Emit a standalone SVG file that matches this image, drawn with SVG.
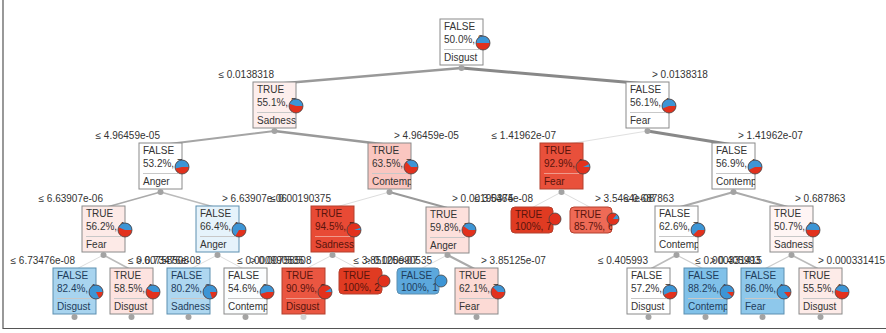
<svg xmlns="http://www.w3.org/2000/svg" width="886" height="333" viewBox="0 0 886 333">
<style>
.t{font-family:"Liberation Sans",Arial,sans-serif;font-size:10px;fill:#333}
.tr{fill:#5a140c}
.tb{fill:#1e3d5c}
.lbl{font-family:"Liberation Sans",Arial,sans-serif;font-size:10px;fill:#333}
.bx{stroke:#8a8a8a;stroke-width:1}
.bxr{stroke:#b3402e;stroke-width:1}
.bxb{stroke:#5d8fb0;stroke-width:1}
.sep{stroke:#c8c8c8;stroke-width:1}
.sepr{stroke:#f09a8c;stroke-width:1}
.dot{fill:#a3a3a3}
.pr{fill:#e2311d}
.pb{fill:#3d95d5}
.po{fill:none;stroke:#444;stroke-width:0.8}
.c{fill:none;stroke-linecap:round}
</style>
<rect width="886" height="333" fill="#fff"/>
<path d="M3,0 V328.5 H886" fill="none" stroke="#555" stroke-width="1.2"/>
<g id="connectors">
<line class="c" x1="461.5" y1="68" x2="274.5" y2="84" stroke="#999" stroke-width="2.5"/>
<line class="c" x1="461.5" y1="68" x2="647.5" y2="84" stroke="#888" stroke-width="3"/>
<line class="c" x1="274.5" y1="131" x2="160.5" y2="145" stroke="#a5a5a5" stroke-width="2"/>
<line class="c" x1="274.5" y1="131" x2="389.5" y2="145" stroke="#999" stroke-width="2.5"/>
<line class="c" x1="647.5" y1="131" x2="561.5" y2="145" stroke="#e0e0e0" stroke-width="1"/>
<line class="c" x1="647.5" y1="131" x2="733.5" y2="145" stroke="#888" stroke-width="3"/>
<line class="c" x1="160.5" y1="192" x2="103.5" y2="208" stroke="#aaa" stroke-width="1.5"/>
<line class="c" x1="160.5" y1="192" x2="217.5" y2="208" stroke="#bbb" stroke-width="1.5"/>
<line class="c" x1="389.5" y1="192" x2="332.5" y2="208" stroke="#ddd" stroke-width="1"/>
<line class="c" x1="389.5" y1="192" x2="447.5" y2="208" stroke="#999" stroke-width="2"/>
<line class="c" x1="561.5" y1="192" x2="531.5" y2="208" stroke="#ddd" stroke-width="1"/>
<line class="c" x1="561.5" y1="192" x2="591.5" y2="208" stroke="#ddd" stroke-width="1"/>
<line class="c" x1="733.5" y1="192" x2="676.5" y2="208" stroke="#aaa" stroke-width="2"/>
<line class="c" x1="733.5" y1="192" x2="791.5" y2="208" stroke="#aaa" stroke-width="2"/>
<line class="c" x1="103.5" y1="255" x2="74.5" y2="270" stroke="#ddd" stroke-width="1"/>
<line class="c" x1="103.5" y1="255" x2="131.5" y2="270" stroke="#bbb" stroke-width="1.5"/>
<line class="c" x1="217.5" y1="255" x2="188.5" y2="270" stroke="#ddd" stroke-width="1"/>
<line class="c" x1="217.5" y1="255" x2="245.5" y2="270" stroke="#ddd" stroke-width="1"/>
<line class="c" x1="332.5" y1="255" x2="303.5" y2="270" stroke="#ddd" stroke-width="1"/>
<line class="c" x1="332.5" y1="255" x2="360.5" y2="270" stroke="#ddd" stroke-width="1"/>
<line class="c" x1="447.5" y1="255" x2="418.5" y2="270" stroke="#ddd" stroke-width="1"/>
<line class="c" x1="447.5" y1="255" x2="476.5" y2="270" stroke="#aaa" stroke-width="2"/>
<line class="c" x1="676.5" y1="255" x2="648.5" y2="270" stroke="#bbb" stroke-width="1.5"/>
<line class="c" x1="676.5" y1="255" x2="705.5" y2="270" stroke="#ccc" stroke-width="1.2"/>
<line class="c" x1="791.5" y1="255" x2="762.5" y2="270" stroke="#ccc" stroke-width="1.2"/>
<line class="c" x1="791.5" y1="255" x2="820.5" y2="270" stroke="#bbb" stroke-width="1.5"/>
</g>
<g id="labels">
<text class="lbl" x="274" y="78" text-anchor="end">≤ 0.0138318</text>
<text class="lbl" x="652" y="78">&gt; 0.0138318</text>
<text class="lbl" x="160" y="139" text-anchor="end">≤ 4.96459e-05</text>
<text class="lbl" x="394" y="139">&gt; 4.96459e-05</text>
<text class="lbl" x="556" y="139" text-anchor="end">≤ 1.41962e-07</text>
<text class="lbl" x="738" y="139">&gt; 1.41962e-07</text>
<text class="lbl" x="103" y="202" text-anchor="end">≤ 6.63907e-06</text>
<text class="lbl" x="222" y="202">&gt; 6.63907e-06</text>
<text class="lbl" x="331" y="202" text-anchor="end">≤ 0.00190375</text>
<text class="lbl" x="452" y="202">&gt; 0.00190375</text>
<text class="lbl" x="533" y="202" text-anchor="end">≤ 3.5464e-08</text>
<text class="lbl" x="595" y="202">&gt; 3.5464e-08</text>
<text class="lbl" x="674" y="202" text-anchor="end">≤ 0.687863</text>
<text class="lbl" x="795" y="202">&gt; 0.687863</text>
<text class="lbl" x="75" y="264" text-anchor="end">≤ 6.73476e-08</text>
<text class="lbl" x="136" y="264">&gt; 6.73476e-08</text>
<text class="lbl" x="189" y="264" text-anchor="end">≤ 0.00758508</text>
<text class="lbl" x="250" y="264">&gt; 0.00758508</text>
<text class="lbl" x="304" y="264" text-anchor="end">≤ 0.000990535</text>
<text class="lbl" x="365" y="264">&gt; 0.000990535</text>
<text class="lbl" x="418" y="264" text-anchor="end">≤ 3.85125e-07</text>
<text class="lbl" x="481" y="264">&gt; 3.85125e-07</text>
<text class="lbl" x="648" y="264" text-anchor="end">≤ 0.405993</text>
<text class="lbl" x="710" y="264">&gt; 0.405993</text>
<text class="lbl" x="762" y="264" text-anchor="end">≤ 0.000331415</text>
<text class="lbl" x="818" y="264">&gt; 0.000331415</text>
</g>

<g id="n0">
<rect class="bx" x="440" y="19" width="43" height="46" fill="#fff"/>
<svg x="440" y="19" width="43" height="46"><text class="t" x="4" y="11">FALSE</text><text class="t" x="4" y="24">50.0%, 8</text><line class="sep" x1="4" y1="30.5" x2="39" y2="30.5"/><text class="t" x="4" y="42">Disgust</text></svg>
<g transform="translate(483,43)"><circle class="pr" r="7"/><path class="pb" d="M0,0 L7,0 A7,7 0 0 0 -7,0 Z"/><circle class="po" r="7"/></g>
<circle class="dot" cx="461.5" cy="68" r="3"/>
</g>

<g id="n1">
<rect class="bx" x="253" y="82" width="43" height="46" fill="#fdeeec"/>
<svg x="253" y="82" width="43" height="46"><text class="t" x="4" y="11">TRUE</text><text class="t" x="4" y="24">55.1%, 5</text><line class="sep" x1="4" y1="30.5" x2="39" y2="30.5"/><text class="t" x="4" y="42">Sadness</text></svg>
<g transform="translate(296,106)"><circle class="pr" r="7"/><path class="pb" d="M0,0 L7,0 A7,7 0 0 0 -6.64,-2.21 Z"/><circle class="po" r="7"/></g>
<circle class="dot" cx="274.5" cy="131" r="3"/>
</g>

<g id="n2">
<rect class="bx" x="626" y="82" width="43" height="46" fill="#fff"/>
<svg x="626" y="82" width="43" height="46"><text class="t" x="4" y="11">FALSE</text><text class="t" x="4" y="24">56.1%, 4</text><line class="sep" x1="4" y1="30.5" x2="39" y2="30.5"/><text class="t" x="4" y="42">Fear</text></svg>
<g transform="translate(669,106)"><circle class="pr" r="7"/><path class="pb" d="M0,0 L7,0 A7,7 0 1 0 -6.49,2.62 Z"/><circle class="po" r="7"/></g>
<circle class="dot" cx="647.5" cy="131" r="3"/>
</g>

<g id="n3">
<rect class="bx" x="139" y="143" width="43" height="46" fill="#fff"/>
<svg x="139" y="143" width="43" height="46"><text class="t" x="4" y="11">FALSE</text><text class="t" x="4" y="24">53.2%, 7</text><line class="sep" x1="4" y1="30.5" x2="39" y2="30.5"/><text class="t" x="4" y="42">Anger</text></svg>
<g transform="translate(182,167)"><circle class="pr" r="7"/><path class="pb" d="M0,0 L7,0 A7,7 0 1 0 -6.86,1.4 Z"/><circle class="po" r="7"/></g>
<circle class="dot" cx="160.5" cy="192" r="3"/>
</g>

<g id="n4">
<rect class="bx" x="368" y="143" width="43" height="46" fill="#fac6c0"/>
<svg x="368" y="143" width="43" height="46"><text class="t" x="4" y="11">TRUE</text><text class="t" x="4" y="24">63.5%, 7</text><line class="sep" x1="4" y1="30.5" x2="39" y2="30.5"/><text class="t" x="4" y="42">Contempt</text></svg>
<g transform="translate(411,167)"><circle class="pr" r="7"/><path class="pb" d="M0,0 L7,0 A7,7 0 0 0 -4.63,-5.25 Z"/><circle class="po" r="7"/></g>
<circle class="dot" cx="389.5" cy="192" r="3"/>
</g>

<g id="n5">
<rect class="bxr" x="540" y="143" width="43" height="46" fill="#e9503b"/>
<svg x="540" y="143" width="43" height="46"><text class="t tr" x="4" y="11">TRUE</text><text class="t tr" x="4" y="24">92.9%, 1</text><line class="sepr" x1="4" y1="30.5" x2="39" y2="30.5"/><text class="t tr" x="4" y="42">Fear</text></svg>
<g transform="translate(583,167)"><circle class="pr" r="7"/><path class="pb" d="M0,0 L7,0 A7,7 0 0 0 6.31,-3.02 Z"/><circle class="po" r="7"/></g>
<circle class="dot" cx="561.5" cy="192" r="3"/>
</g>

<g id="n6">
<rect class="bx" x="712" y="143" width="43" height="46" fill="#fff"/>
<svg x="712" y="143" width="43" height="46"><text class="t" x="4" y="11">FALSE</text><text class="t" x="4" y="24">56.9%, 4</text><line class="sep" x1="4" y1="30.5" x2="39" y2="30.5"/><text class="t" x="4" y="42">Contempt</text></svg>
<g transform="translate(755,167)"><circle class="pr" r="7"/><path class="pb" d="M0,0 L7,0 A7,7 0 1 0 -6.35,2.94 Z"/><circle class="po" r="7"/></g>
<circle class="dot" cx="733.5" cy="192" r="3"/>
</g>

<g id="n7">
<rect class="bx" x="82" y="206" width="43" height="46" fill="#fdeae7"/>
<svg x="82" y="206" width="43" height="46"><text class="t" x="4" y="11">TRUE</text><text class="t" x="4" y="24">56.2%, 1</text><line class="sep" x1="4" y1="30.5" x2="39" y2="30.5"/><text class="t" x="4" y="42">Fear</text></svg>
<g transform="translate(125,230)"><circle class="pr" r="7"/><path class="pb" d="M0,0 L7,0 A7,7 0 0 0 -6.48,-2.66 Z"/><circle class="po" r="7"/></g>
<circle class="dot" cx="103.5" cy="255" r="3"/>
</g>

<g id="n8">
<rect class="bxb" x="196" y="206" width="43" height="46" fill="#e6f3fb"/>
<svg x="196" y="206" width="43" height="46"><text class="t" x="4" y="11">FALSE</text><text class="t" x="4" y="24">66.4%, 1</text><line class="sep" x1="4" y1="30.5" x2="39" y2="30.5"/><text class="t" x="4" y="42">Anger</text></svg>
<g transform="translate(239,230)"><circle class="pr" r="7"/><path class="pb" d="M0,0 L7,0 A7,7 0 1 0 -3.61,6 Z"/><circle class="po" r="7"/></g>
<circle class="dot" cx="217.5" cy="255" r="3"/>
</g>

<g id="n9">
<rect class="bxr" x="311" y="206" width="43" height="46" fill="#e84a35"/>
<svg x="311" y="206" width="43" height="46"><text class="t tr" x="4" y="11">TRUE</text><text class="t tr" x="4" y="24">94.5%, 5</text><line class="sepr" x1="4" y1="30.5" x2="39" y2="30.5"/><text class="t tr" x="4" y="42">Sadness</text></svg>
<g transform="translate(354,230)"><circle class="pr" r="7"/><path class="pb" d="M0,0 L7,0 A7,7 0 0 0 6.59,-2.37 Z"/><circle class="po" r="7"/></g>
<circle class="dot" cx="332.5" cy="255" r="3"/>
</g>

<g id="n10">
<rect class="bx" x="426" y="207" width="43" height="46" fill="#fde0dc"/>
<svg x="426" y="207" width="43" height="46"><text class="t" x="4" y="11">TRUE</text><text class="t" x="4" y="24">59.8%, 7</text><line class="sep" x1="4" y1="30.5" x2="39" y2="30.5"/><text class="t" x="4" y="42">Anger</text></svg>
<g transform="translate(469,230)"><circle class="pr" r="7"/><path class="pb" d="M0,0 L7,0 A7,7 0 0 0 -5.71,-4.05 Z"/><circle class="po" r="7"/></g>
<circle class="dot" cx="447.5" cy="255" r="3"/>
</g>

<g id="n11">
<rect class="bxr" x="511" y="207" width="42" height="26" rx="4" fill="#e03b22"/>
<svg x="511" y="207" width="42" height="26"><text class="t tr" x="4" y="11">TRUE</text><text class="t tr" x="4" y="23">100%, 7</text></svg>
<circle class="pr" cx="555" cy="219" r="6"/><circle class="po" cx="555" cy="219" r="6"/>
</g>

<g id="n12">
<rect class="bxr" x="570" y="207" width="42" height="26" rx="4" fill="#ee6a56"/>
<svg x="570" y="207" width="42" height="26"><text class="t tr" x="4" y="11">TRUE</text><text class="t tr" x="4" y="23">85.7%, 6</text></svg>
<g transform="translate(613,219)"><circle class="pr" r="6"/><path class="pb" d="M0,0 L6,0 A6,6 0 0 0 3.74,-4.7 Z"/><circle class="po" r="6"/></g>
</g>

<g id="n13">
<rect class="bx" x="655" y="206" width="43" height="46" fill="#fff"/>
<svg x="655" y="206" width="43" height="46"><text class="t" x="4" y="11">FALSE</text><text class="t" x="4" y="24">62.6%, 7</text><line class="sep" x1="4" y1="30.5" x2="39" y2="30.5"/><text class="t" x="4" y="42">Contempt</text></svg>
<g transform="translate(698,230)"><circle class="pr" r="7"/><path class="pb" d="M0,0 L7,0 A7,7 0 1 0 -4.92,4.98 Z"/><circle class="po" r="7"/></g>
<circle class="dot" cx="676.5" cy="255" r="3"/>
</g>

<g id="n14">
<rect class="bx" x="770" y="206" width="43" height="46" fill="#fff5f4"/>
<svg x="770" y="206" width="43" height="46"><text class="t" x="4" y="11">TRUE</text><text class="t" x="4" y="24">50.7%, 1</text><line class="sep" x1="4" y1="30.5" x2="39" y2="30.5"/><text class="t" x="4" y="42">Sadness</text></svg>
<g transform="translate(813,230)"><circle class="pr" r="7"/><path class="pb" d="M0,0 L7,0 A7,7 0 0 0 -6.99,-0.31 Z"/><circle class="po" r="7"/></g>
<circle class="dot" cx="791.5" cy="255" r="3"/>
</g>

<g id="n15">
<rect class="bxb" x="53" y="268" width="43" height="46" fill="#a8d4ef"/>
<svg x="53" y="268" width="43" height="46"><text class="t tb" x="4" y="11">FALSE</text><text class="t tb" x="4" y="24">82.4%, 1</text><line class="sep" x1="4" y1="30.5" x2="39" y2="30.5"/><text class="t tb" x="4" y="42">Disgust</text></svg>
<g transform="translate(96,292)"><circle class="pr" r="7"/><path class="pb" d="M0,0 L7,0 A7,7 0 1 0 3.13,6.26 Z"/><circle class="po" r="7"/></g>
<circle class="dot" cx="74.5" cy="317" r="3"/>
</g>

<g id="n16">
<rect class="bx" x="110" y="268" width="43" height="46" fill="#fde3e0"/>
<svg x="110" y="268" width="43" height="46"><text class="t" x="4" y="11">TRUE</text><text class="t" x="4" y="24">58.5%, 1</text><line class="sep" x1="4" y1="30.5" x2="39" y2="30.5"/><text class="t" x="4" y="42">Disgust</text></svg>
<g transform="translate(153,292)"><circle class="pr" r="7"/><path class="pb" d="M0,0 L7,0 A7,7 0 0 0 -6.03,-3.56 Z"/><circle class="po" r="7"/></g>
<circle class="dot" cx="131.5" cy="317" r="3"/>
</g>

<g id="n17">
<rect class="bxb" x="167" y="268" width="43" height="46" fill="#aed7f0"/>
<svg x="167" y="268" width="43" height="46"><text class="t tb" x="4" y="11">FALSE</text><text class="t tb" x="4" y="24">80.2%, 8</text><line class="sep" x1="4" y1="30.5" x2="39" y2="30.5"/><text class="t tb" x="4" y="42">Sadness</text></svg>
<g transform="translate(210,292)"><circle class="pr" r="7"/><path class="pb" d="M0,0 L7,0 A7,7 0 1 0 2.24,6.63 Z"/><circle class="po" r="7"/></g>
<circle class="dot" cx="188.5" cy="317" r="3"/>
</g>

<g id="n18">
<rect class="bx" x="224" y="268" width="43" height="46" fill="#fbfdfe"/>
<svg x="224" y="268" width="43" height="46"><text class="t" x="4" y="11">FALSE</text><text class="t" x="4" y="24">54.6%, 6</text><line class="sep" x1="4" y1="30.5" x2="39" y2="30.5"/><text class="t" x="4" y="42">Contempt</text></svg>
<g transform="translate(267,292)"><circle class="pr" r="7"/><path class="pb" d="M0,0 L7,0 A7,7 0 1 0 -6.71,2 Z"/><circle class="po" r="7"/></g>
<circle class="dot" cx="245.5" cy="317" r="3"/>
</g>

<g id="n19">
<rect class="bxr" x="282" y="268" width="43" height="46" fill="#ea5641"/>
<svg x="282" y="268" width="43" height="46"><text class="t tr" x="4" y="11">TRUE</text><text class="t tr" x="4" y="24">90.9%, 2</text><line class="sepr" x1="4" y1="30.5" x2="39" y2="30.5"/><text class="t tr" x="4" y="42">Disgust</text></svg>
<g transform="translate(325,292)"><circle class="pr" r="7"/><path class="pb" d="M0,0 L7,0 A7,7 0 0 0 5.89,-3.79 Z"/><circle class="po" r="7"/></g>
<circle cx="303.5" cy="317" r="3" fill="#d4d4d4"/>
</g>

<g id="n20">
<rect class="bxr" x="339" y="268" width="43" height="26" rx="4" fill="#e03b22"/>
<svg x="339" y="268" width="43" height="26"><text class="t tr" x="4" y="11">TRUE</text><text class="t tr" x="4" y="23">100%, 2</text></svg>
<circle class="pr" cx="384" cy="281" r="6"/><circle class="po" cx="384" cy="281" r="6"/>
</g>

<g id="n21">
<rect class="bxb" x="397" y="268" width="42" height="26" rx="4" fill="#5ca8dc"/>
<svg x="397" y="268" width="42" height="26"><text class="t tb" x="4" y="11">FALSE</text><text class="t tb" x="4" y="23">100%, 1</text></svg>
<circle class="pb" cx="441" cy="281" r="6"/><circle class="po" cx="441" cy="281" r="6"/>
</g>

<g id="n22">
<rect class="bx" x="455" y="268" width="43" height="46" fill="#fcdad5"/>
<svg x="455" y="268" width="43" height="46"><text class="t" x="4" y="11">TRUE</text><text class="t" x="4" y="24">62.1%, 7</text><line class="sep" x1="4" y1="30.5" x2="39" y2="30.5"/><text class="t" x="4" y="42">Fear</text></svg>
<g transform="translate(498,292)"><circle class="pr" r="7"/><path class="pb" d="M0,0 L7,0 A7,7 0 0 0 -5.07,-4.83 Z"/><circle class="po" r="7"/></g>
<circle class="dot" cx="476.5" cy="317" r="3"/>
</g>

<g id="n23">
<rect class="bx" x="627" y="268" width="43" height="46" fill="#fff"/>
<svg x="627" y="268" width="43" height="46"><text class="t" x="4" y="11">FALSE</text><text class="t" x="4" y="24">57.2%, 7</text><line class="sep" x1="4" y1="30.5" x2="39" y2="30.5"/><text class="t" x="4" y="42">Disgust</text></svg>
<g transform="translate(670,292)"><circle class="pr" r="7"/><path class="pb" d="M0,0 L7,0 A7,7 0 1 0 -6.3,3.06 Z"/><circle class="po" r="7"/></g>
<circle class="dot" cx="648.5" cy="317" r="3"/>
</g>

<g id="n24">
<rect class="bxb" x="684" y="268" width="43" height="46" fill="#80c1e9"/>
<svg x="684" y="268" width="43" height="46"><text class="t tb" x="4" y="11">FALSE</text><text class="t tb" x="4" y="24">88.2%, 1</text><line class="sep" x1="4" y1="30.5" x2="39" y2="30.5"/><text class="t tb" x="4" y="42">Contempt</text></svg>
<g transform="translate(727,292)"><circle class="pr" r="7"/><path class="pb" d="M0,0 L7,0 A7,7 0 1 0 5.16,4.73 Z"/><circle class="po" r="7"/></g>
<circle class="dot" cx="705.5" cy="317" r="3"/>
</g>

<g id="n25">
<rect class="bxb" x="741" y="268" width="43" height="46" fill="#8ec8eb"/>
<svg x="741" y="268" width="43" height="46"><text class="t tb" x="4" y="11">FALSE</text><text class="t tb" x="4" y="24">86.0%, 1</text><line class="sep" x1="4" y1="30.5" x2="39" y2="30.5"/><text class="t tb" x="4" y="42">Fear</text></svg>
<g transform="translate(784,292)"><circle class="pr" r="7"/><path class="pb" d="M0,0 L7,0 A7,7 0 1 0 4.46,5.4 Z"/><circle class="po" r="7"/></g>
<circle class="dot" cx="762.5" cy="317" r="3"/>
</g>

<g id="n26">
<rect class="bx" x="799" y="268" width="43" height="46" fill="#fdebe8"/>
<svg x="799" y="268" width="43" height="46"><text class="t" x="4" y="11">TRUE</text><text class="t" x="4" y="24">55.5%, 1</text><line class="sep" x1="4" y1="30.5" x2="39" y2="30.5"/><text class="t" x="4" y="42">Disgust</text></svg>
<g transform="translate(842,292)"><circle class="pr" r="7"/><path class="pb" d="M0,0 L7,0 A7,7 0 0 0 -6.59,-2.37 Z"/><circle class="po" r="7"/></g>
<circle class="dot" cx="820.5" cy="317" r="3"/>
</g>
</svg>
